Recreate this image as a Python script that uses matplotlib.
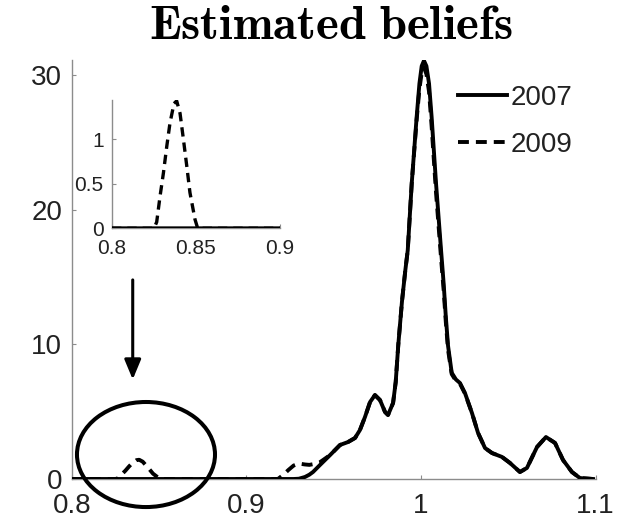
import matplotlib
matplotlib.use("Agg")
import matplotlib.pyplot as plt
from matplotlib.patches import Ellipse

plt.rcParams['font.family'] = ['Liberation Sans', 'DejaVu Sans']
plt.rcParams['mathtext.fontset'] = 'cm'

# ---- data ----
x_vals = [0.800, 0.825, 0.8266, 0.8286, 0.8306, 0.8326, 0.8345, 0.8369, 0.8385,
          0.8405, 0.8425, 0.8445, 0.8464, 0.8494, 0.851, 0.915, 0.918, 0.921,
          0.924, 0.927, 0.930, 0.9335, 0.936, 0.9381, 0.9421, 0.9479, 0.9536,
          0.9582, 0.9622, 0.9650, 0.9679, 0.9708, 0.9736, 0.9765, 0.9794,
          0.9811, 0.9840, 0.9855, 0.9870, 0.9891, 0.9910, 0.9924, 0.9947,
          0.9975, 0.9991, 1.0004, 1.0017, 1.0031, 1.0046, 1.0061, 1.0086,
          1.0115, 1.0130, 1.0142, 1.0155, 1.0176, 1.0200, 1.0223, 1.0252,
          1.0292, 1.0327, 1.0367, 1.0407, 1.0464, 1.0510, 1.0567, 1.0607,
          1.0665, 1.0716, 1.0768, 1.0814, 1.0865, 1.0911, 1.0986]

y_2007 = [0, 0, 0, 0, 0, 0, 0, 0, 0,
          0, 0, 0, 0, 0, 0, 0, 0, 0,
          0, 0, 0.02, 0.15, 0.32, 0.52, 1.04, 1.78, 2.53,
          2.75, 3.05, 3.64, 4.61, 5.72, 6.24, 5.87, 4.98,
          4.76, 5.65, 7.2, 10.0, 13.2, 15.5, 17.0, 22.0,
          26.9, 29.4, 30.7, 31.1, 30.7, 29.4, 26.9, 22.0,
          17.0, 14.5, 12.1, 9.9, 7.9, 7.4, 7.14, 6.39,
          4.91, 3.42, 2.30, 1.93, 1.64, 1.19, 0.52, 0.82,
          2.38, 3.12, 2.68, 1.41, 0.52, 0.07, 0.0]

y_2009 = [0, 0, 0.07, 0.36, 0.62, 0.92, 1.18, 1.40, 1.43,
          1.29, 1.00, 0.70, 0.40, 0.10, 0, 0, 0, 0.30,
          0.67, 1.00, 1.15, 1.08, 1.05, 1.10, 1.25, 1.78, 2.53,
          2.75, 3.05, 3.64, 4.61, 5.72, 6.24, 5.87, 4.98,
          4.76, 5.65, 7.2, 10.0, 13.2, 15.5, 17.0, 22.0,
          26.7, 29.0, 30.2, 30.6, 30.1, 28.8, 26.2, 21.3,
          16.4, 14.0, 11.7, 9.6, 7.8, 7.3, 7.1, 6.35,
          4.91, 3.42, 2.30, 1.93, 1.64, 1.19, 0.52, 0.82,
          2.38, 3.12, 2.68, 1.41, 0.52, 0.07, 0.0]

labels = ['2007', '2009']
main_xticks = [0.8, 0.9, 1.0, 1.1]
main_xticklabels = ['0.8', '0.9', '1', '1.1']
main_yticks = [0, 10, 20, 30]
inset_xticks = [0.8, 0.85, 0.9]
inset_xticklabels = ['0.8', '0.85', '0.9']
inset_yticks = [0, 0.5, 1]
inset_yticklabels = ['0', '0.5', '1']

W, H = 621, 529
fig = plt.figure(figsize=(W / 100, H / 100), dpi=100)

dash = (0, (2.8, 1.8))
spine_col = '#8c8c8c'
txt_col = '#222222'


def style(ax, fs, pad_x, pad_y):
    for s in ['top', 'right']:
        ax.spines[s].set_visible(False)
    for s in ['left', 'bottom']:
        ax.spines[s].set_color(spine_col)
        ax.spines[s].set_linewidth(1.0)
    ax.tick_params(direction='in', length=3, width=0.8, color=spine_col,
                   labelsize=fs, labelcolor=txt_col)
    ax.tick_params(axis='x', pad=pad_x)
    ax.tick_params(axis='y', pad=pad_y)


# ---- main axes ----
ax = fig.add_axes([72 / W, 1 - 479 / H, (595.5 - 72) / W, (479 - 60) / H])
ax.plot(x_vals, y_2007, color='k', lw=2.8, solid_joinstyle='round',
        label=labels[0], zorder=3)
ax.plot(x_vals, y_2009, color='k', lw=2.8, linestyle=dash,
        label=labels[1], zorder=4)
ax.set_xlim(0.8, 1.1)
ax.set_ylim(0, 31.15)
ax.set_xticks(main_xticks)
ax.set_xticklabels(main_xticklabels)
ax.set_yticks(main_yticks)
style(ax, 20, 10, 7)

leg = ax.legend(loc='upper left', bbox_to_anchor=(458 / W, 1 - 85 / H),
                bbox_transform=fig.transFigure, frameon=False, fontsize=20,
                handlelength=1.76, handletextpad=0.15, labelspacing=0.75,
                borderpad=0, borderaxespad=0)
for t in leg.get_texts():
    t.set_color(txt_col)

# ellipse highlighting the small bump
ell = Ellipse((0.8424, 1.82), 0.0791, 7.81, fill=False, ec='k', lw=2.9,
              clip_on=False, zorder=5)
ax.add_patch(ell)

# arrow from inset to ellipse
ax.annotate('', xy=(0.8348, 7.4), xytext=(0.8348, 14.8),
            arrowprops=dict(arrowstyle='-|>,head_length=0.6,head_width=0.25',
                            mutation_scale=20, lw=2.2, color='k',
                            shrinkA=0, shrinkB=0))

# title
fig.text(331 / W, 1 - 39 / H, r'$\mathbf{Estimated\ beliefs}$',
         ha='center', va='baseline', fontsize=35)

# ---- inset ----
axi = fig.add_axes([112 / W, 1 - 228.3 / H, (280 - 112) / W, (228.3 - 100) / H])
axi.set_facecolor('none')
axi.plot(x_vals, y_2007, color='k', lw=2.8, zorder=3)
axi.plot(x_vals, y_2009, color='k', lw=2.4, linestyle=dash, zorder=4)
axi.set_xlim(0.8, 0.9)
axi.set_ylim(0, 1.44)
axi.set_xticks(inset_xticks)
axi.set_xticklabels(inset_xticklabels)
axi.set_yticks(inset_yticks)
axi.set_yticklabels(inset_yticklabels)
style(axi, 15, 8, 6)

fig.savefig('out.png', dpi=100)
